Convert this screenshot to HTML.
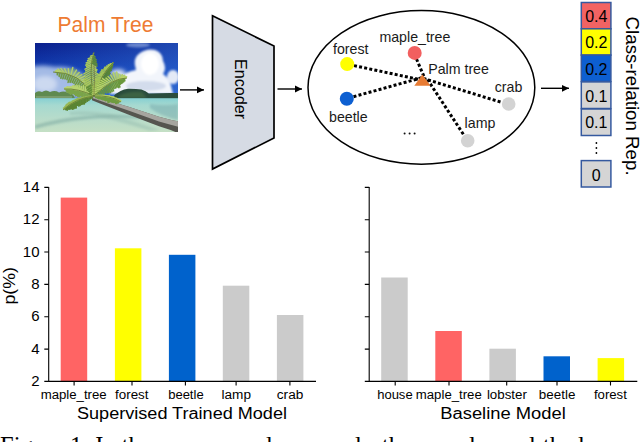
<!DOCTYPE html>
<html><head><meta charset="utf-8">
<style>
html,body{margin:0;padding:0;background:#fff;width:640px;height:442px;overflow:hidden}
svg{display:block;font-family:"Liberation Sans",sans-serif}
</style></head>
<body>
<svg width="640" height="442" viewBox="0 0 640 442">
<defs>
  <marker id="ah" markerWidth="8" markerHeight="8" refX="7.2" refY="4" orient="auto" markerUnits="userSpaceOnUse">
    <path d="M0,0.5 L7.2,4 L0,7.5 Z" fill="#000"/>
  </marker>
  <clipPath id="photo"><rect x="35" y="43" width="143" height="89"/></clipPath>
  <filter id="b1" x="-50%" y="-50%" width="200%" height="200%"><feGaussianBlur stdDeviation="1.2"/></filter>
  <filter id="b2" x="-50%" y="-50%" width="200%" height="200%"><feGaussianBlur stdDeviation="0.6"/></filter>
  <linearGradient id="sky" x1="0" y1="0" x2="0" y2="1">
    <stop offset="0" stop-color="#0a1f8c"/>
    <stop offset="0.35" stop-color="#1343b8"/>
    <stop offset="1" stop-color="#4d8ad8"/>
  </linearGradient>
  <linearGradient id="sea" x1="0" y1="0" x2="0" y2="1">
    <stop offset="0" stop-color="#86d0d2"/>
    <stop offset="0.2" stop-color="#a6d9d0"/>
    <stop offset="0.6" stop-color="#b8dcca"/>
    <stop offset="1" stop-color="#c6e0c4"/>
  </linearGradient>
  <linearGradient id="skyr" x1="0" y1="0" x2="1" y2="0">
    <stop offset="0" stop-color="#3a7ae0" stop-opacity="0"/>
    <stop offset="1" stop-color="#3a7ae0" stop-opacity="0.45"/>
  </linearGradient>
  <filter id="b4" x="-50%" y="-50%" width="200%" height="200%"><feGaussianBlur stdDeviation="0.75"/></filter>
  <filter id="b3" x="-50%" y="-50%" width="200%" height="200%"><feGaussianBlur stdDeviation="2.2"/></filter>
</defs>

<!-- ===== Photo ===== -->
<text x="57.6" y="32.4" font-size="22" fill="#ee7b33" textLength="95.8" lengthAdjust="spacingAndGlyphs">Palm Tree</text>
<g clip-path="url(#photo)">
  <rect x="35" y="43" width="143" height="89" fill="url(#sky)"/>
  <rect x="35" y="43" width="143" height="89" fill="url(#skyr)"/>
  <!-- left haze cloud -->
  <g filter="url(#b3)">
    <path d="M30,67 Q42,64 55,67 Q66,66 75,70 Q84,74 90,82 L92,98 L30,98 Z" fill="#b3c6ea" opacity="0.9"/>
    <ellipse cx="45" cy="84" rx="12" ry="8" fill="#d0dcf2" opacity="0.9"/>
    <ellipse cx="118" cy="74" rx="8" ry="5" fill="#e6ecf8" opacity="0.9"/>
  </g>
  <!-- big cumulus -->
  <g filter="url(#b1)">
    <path d="M136,70 Q132,58 140,53 Q147,48 155,50 Q163,53 163,61 Q167,68 163,74 Q169,78 171,86 L173,94 L110,94 Q110,84 118,79 Q125,72 136,70 Z" fill="#f2f5fb"/>
    <ellipse cx="150" cy="64" rx="9" ry="11" fill="#ffffff"/>
    <ellipse cx="146" cy="86" rx="20" ry="5" fill="#d3dcec"/>
    <ellipse cx="173" cy="77" rx="6" ry="7" fill="#e4eaf6"/>
    <ellipse cx="138" cy="45" rx="12" ry="2.5" fill="#9fb6e6" opacity="0.6"/>
  </g>
  <!-- island -->
  <path d="M113,97 Q116,93 120.6,91 Q124,89 128,88.7 Q136,88.6 141.4,89.5 Q146,91 148.8,93.5 Q160,92.8 178,93 L178,99 L113,99 Z" fill="#2b4d3c" filter="url(#b2)"/>
  <path d="M119,96 Q128,91 142,92 L147,98 L119,98 Z" fill="#4b7549" opacity="0.55" filter="url(#b1)"/>
  <!-- left trees -->
  <g filter="url(#b2)">
    <path d="M35,93 Q38,90 42,92 Q46,89 50,92 Q55,90 59,92.5 Q64,90.5 68,93 Q72,93 74,96 L75,98.5 L35,98.5 Z" fill="#5f8a50"/>
    <path d="M36,96 L72,96 L72,98.5 L36,98.5 Z" fill="#8aa67a" opacity="0.6"/>
  </g>
  <!-- sea -->
  <rect x="35" y="98.2" width="143" height="35" fill="url(#sea)"/>
  <path d="M150,104 Q165,106 178,104 L178,120 Q160,116 150,108 Z" fill="#7aaeb0" opacity="0.55" filter="url(#b1)"/>
  <!-- shadow -->
  <path d="M35,125 Q60,118 85,116 Q110,113 140,116 L140,119 Q110,117 85,119.5 Q60,122 35,129 Z" fill="#7eaaa2" opacity="0.55" filter="url(#b1)"/>
  <path d="M70,112 Q90,110 110,114 Q130,120 160,130 L150,131 Q125,123 105,118 Q88,114 70,115 Z" fill="#8fb8ac" opacity="0.4" filter="url(#b1)"/>
  <!-- trunk -->
  <path d="M92,96 L100,98.3 Q130,106.8 159,116.8 Q170,120 179,121.5 L179,133.5 Q170,129.5 159,126.3 Q130,115.5 100,103.6 L92,100.3 Z" fill="#55554f" filter="url(#b2)"/>
  <path d="M92,96 L100,98.3 Q130,106.8 159,116.8 Q170,120 179,121.5 L179,127 Q170,124.5 159,121.4 Q130,111 100,100.8 L92,98 Z" fill="#a6a59f" filter="url(#b2)"/>
  <!-- fronds -->
  <g filter="url(#b4)">
<path d="M94.0,96.0 L95.4,94.1 L94.8,92.1 L95.2,90.0 L93.1,88.0 L93.2,85.9 L91.6,83.9 L89.4,82.1 L89.1,79.8 L86.0,78.3 L85.1,75.9 L81.9,74.5 L79.2,72.6 L76.5,70.0 L72.8,67.5 L68.3,68.8 L64.6,68.8 L61.0,68.6 L58.0,69.0 L56.6,70.2 L55.4,71.0 L55.4,72.0 L53.0,72.0 L55.4,72.0 L57.2,74.8 L59.1,76.5 L60.8,78.4 L62.8,78.9 L65.0,79.0 L66.9,79.7 L68.0,82.5 L70.1,82.4 L72.2,82.6 L73.9,83.5 L75.1,85.5 L77.3,85.6 L78.3,87.9 L80.6,88.0 L81.8,89.8 L83.2,91.4 L85.6,91.7 L86.6,94.0 L89.1,94.5 L90.9,95.9Z" fill="#6f9a40" opacity="0.45"/><path d="M92.7,93.9 L90.9,95.9 M91.3,91.8 L89.1,94.5 M89.9,89.9 L86.6,94.0 M88.5,88.1 L85.6,91.7 M87.0,86.3 L83.2,91.4 M85.4,84.7 L81.8,89.8 M83.8,83.2 L80.6,88.0 M82.1,81.7 L78.3,87.9 M80.4,80.4 L77.3,85.6 M78.6,79.1 L75.1,85.5 M76.8,78.0 L73.9,83.5 M74.9,77.0 L72.2,82.6 M72.9,76.0 L70.1,82.4 M70.9,75.2 L68.0,82.5 M68.9,74.4 L66.9,79.7 M66.8,73.8 L65.0,79.0 M64.6,73.2 L62.8,78.9 M62.4,72.8 L60.8,78.4 M60.1,72.4 L59.1,76.5 M57.8,72.2 L57.2,74.8 M55.4,72.0 L55.4,72.0" stroke="#6f9a40" stroke-width="1.4" stroke-linecap="round" fill="none"/><path d="M92.7,93.9 L95.4,94.1 M91.3,91.8 L94.8,92.1 M89.9,89.9 L95.2,90.0 M88.5,88.1 L93.1,88.0 M87.0,86.3 L93.2,85.9 M85.4,84.7 L91.6,83.9 M83.8,83.2 L89.4,82.1 M82.1,81.7 L89.1,79.8 M80.4,80.4 L86.0,78.3 M78.6,79.1 L85.1,75.9 M76.8,78.0 L81.9,74.5 M74.9,77.0 L79.2,72.6 M72.9,76.0 L76.5,70.0 M70.9,75.2 L72.8,67.5 M68.9,74.4 L68.3,68.8 M66.8,73.8 L64.6,68.8 M64.6,73.2 L61.0,68.6 M62.4,72.8 L58.0,69.0 M60.1,72.4 L56.6,70.2 M57.8,72.2 L55.4,71.0 M55.4,72.0 L55.4,72.0" stroke="#b4d06a" stroke-width="1.4" stroke-linecap="round" fill="none"/><path d="M94.0,96.0 Q80.0,72.0 53.0,72.0" stroke="#6a7f38" stroke-width="0.9" fill="none"/><path d="M94.0,96.0 L93.7,93.8 L93.0,91.4 L91.2,90.7 L89.5,89.7 L87.6,88.7 L85.7,87.4 L83.4,85.6 L81.4,86.5 L79.0,85.3 L76.8,85.1 L75.1,85.7 L73.0,85.5 L72.2,86.5 L70.7,86.7 L69.1,86.8 L67.1,86.7 L66.5,87.2 L65.8,87.7 L64.7,87.9 L64.4,88.3 L65.3,88.9 L64.0,89.0 L65.3,88.9 L66.2,91.1 L67.2,92.2 L68.4,92.5 L69.5,93.3 L70.5,94.3 L72.0,93.8 L73.2,93.9 L74.5,94.3 L75.4,95.7 L76.8,95.7 L77.9,96.6 L79.2,96.7 L80.9,96.1 L81.8,97.7 L83.7,96.9 L85.3,96.7 L86.8,97.0 L88.3,97.3 L89.6,98.0 L91.8,97.0Z" fill="#7aa448" opacity="0.45"/><path d="M92.5,95.3 L91.8,97.0 M91.1,94.6 L89.6,98.0 M89.7,94.0 L88.3,97.3 M88.2,93.4 L86.8,97.0 M86.8,92.8 L85.3,96.7 M85.4,92.3 L83.7,96.9 M84.0,91.8 L81.8,97.7 M82.6,91.4 L80.9,96.1 M81.2,91.0 L79.2,96.7 M79.9,90.6 L77.9,96.6 M78.5,90.2 L76.8,95.7 M77.1,90.0 L75.4,95.7 M75.8,89.7 L74.5,94.3 M74.4,89.5 L73.2,93.9 M73.1,89.3 L72.0,93.8 M71.8,89.1 L70.5,94.3 M70.5,89.0 L69.5,93.3 M69.2,88.9 L68.4,92.5 M67.9,88.9 L67.2,92.2 M66.6,88.9 L66.2,91.1 M65.3,88.9 L65.3,88.9" stroke="#7aa448" stroke-width="1.4" stroke-linecap="round" fill="none"/><path d="M92.5,95.3 L93.7,93.8 M91.1,94.6 L93.0,91.4 M89.7,94.0 L91.2,90.7 M88.2,93.4 L89.5,89.7 M86.8,92.8 L87.6,88.7 M85.4,92.3 L85.7,87.4 M84.0,91.8 L83.4,85.6 M82.6,91.4 L81.4,86.5 M81.2,91.0 L79.0,85.3 M79.9,90.6 L76.8,85.1 M78.5,90.2 L75.1,85.7 M77.1,90.0 L73.0,85.5 M75.8,89.7 L72.2,86.5 M74.4,89.5 L70.7,86.7 M73.1,89.3 L69.1,86.8 M71.8,89.1 L67.1,86.7 M70.5,89.0 L66.5,87.2 M69.2,88.9 L65.8,87.7 M67.9,88.9 L64.7,87.9 M66.6,88.9 L64.4,88.3 M65.3,88.9 L65.3,88.9" stroke="#b8d470" stroke-width="1.4" stroke-linecap="round" fill="none"/><path d="M94.0,96.0 Q78.0,88.0 64.0,89.0" stroke="#6a7f38" stroke-width="0.9" fill="none"/><path d="M94.0,96.0 L96.5,94.8 L97.1,93.0 L96.7,90.8 L97.5,89.1 L97.6,87.1 L98.6,85.6 L98.3,83.5 L97.2,81.1 L99.0,80.1 L96.6,77.0 L97.3,75.5 L98.1,74.1 L96.5,71.2 L97.1,69.8 L95.9,67.2 L97.1,66.0 L97.0,64.1 L96.3,61.7 L96.3,59.8 L95.1,56.9 L93.5,53.7 L94.0,52.0 L93.5,53.7 L90.5,56.2 L88.2,58.7 L87.5,60.7 L86.2,63.0 L85.6,65.1 L86.5,66.5 L85.0,69.2 L85.6,70.9 L83.8,73.8 L84.7,75.5 L85.5,77.2 L83.5,80.5 L85.6,81.6 L84.9,84.3 L85.2,86.5 L86.7,88.0 L87.4,90.1 L88.9,91.6 L89.4,93.9 L90.9,95.6Z" fill="#5f8c36" opacity="0.45"/><path d="M93.5,93.7 L90.9,95.6 M93.0,91.3 L89.4,93.9 M92.6,89.1 L88.9,91.6 M92.2,86.8 L87.4,90.1 M91.9,84.6 L86.7,88.0 M91.6,62.4 L97.1,66.0 M91.9,60.6 L97.0,64.1 M92.2,58.8 L96.3,61.7 M92.6,57.1 L96.3,59.8 M93.0,55.3 L95.1,56.9 M93.5,53.7 L93.5,53.7" stroke="#5f8c36" stroke-width="1.4" stroke-linecap="round" fill="none"/><path d="M93.5,93.7 L96.5,94.8 M93.0,91.3 L97.1,93.0 M92.6,89.1 L96.7,90.8 M92.2,86.8 L97.5,89.1 M91.9,84.6 L97.6,87.1 M91.6,82.4 L98.6,85.6 M91.6,82.4 L85.2,86.5 M91.4,80.3 L98.3,83.5 M91.4,80.3 L84.9,84.3 M91.2,78.1 L97.2,81.1 M91.2,78.1 L85.6,81.6 M91.1,76.1 L99.0,80.1 M91.1,76.1 L83.5,80.5 M91.0,74.0 L96.6,77.0 M91.0,74.0 L85.5,77.2 M91.0,72.0 L97.3,75.5 M91.0,72.0 L84.7,75.5 M91.0,70.0 L98.1,74.1 M91.0,70.0 L83.8,73.8 M91.1,68.1 L96.5,71.2 M91.1,68.1 L85.6,70.9 M91.2,66.1 L97.1,69.8 M91.2,66.1 L85.0,69.2 M91.4,64.3 L95.9,67.2 M91.4,64.3 L86.5,66.5 M91.6,62.4 L85.6,65.1 M91.9,60.6 L86.2,63.0 M92.2,58.8 L87.5,60.7 M92.6,57.1 L88.2,58.7 M93.0,55.3 L90.5,56.2 M93.5,53.7 L93.5,53.7" stroke="#aac860" stroke-width="1.4" stroke-linecap="round" fill="none"/><path d="M94.0,96.0 Q88.0,70.0 94.0,52.0" stroke="#6a7f38" stroke-width="0.9" fill="none"/><path d="M94.0,96.0 L96.4,95.3 L97.8,93.8 L98.9,92.1 L100.5,90.9 L101.8,89.4 L102.2,87.2 L103.4,85.9 L103.5,83.5 L105.3,82.9 L106.1,81.3 L107.5,80.3 L108.1,78.5 L108.1,76.1 L109.0,74.8 L110.1,73.8 L110.0,71.3 L111.2,70.5 L111.6,68.6 L112.3,67.0 L112.8,65.3 L112.9,62.9 L114.0,62.0 L112.9,62.9 L110.2,63.7 L108.3,64.8 L106.7,65.9 L104.7,67.2 L104.1,68.5 L101.6,70.0 L100.9,71.4 L100.0,73.0 L97.8,74.7 L96.5,76.4 L96.4,78.0 L95.4,79.7 L96.0,81.2 L94.1,83.2 L94.0,85.0 L92.6,87.0 L92.5,88.9 L92.8,90.6 L92.5,92.6 L92.6,94.5Z" fill="#5a8632" opacity="0.45"/><path d="M94.7,93.8 L96.4,95.3 M95.5,91.8 L97.8,93.8 M96.3,89.7 L98.9,92.1 M97.0,87.7 L100.5,90.9 M97.8,85.8 L101.8,89.4 M98.7,84.0 L102.2,87.2 M99.5,82.1 L103.4,85.9 M100.3,80.4 L103.5,83.5 M101.2,78.7 L105.3,82.9 M102.1,77.1 L106.1,81.3 M103.0,75.5 L107.5,80.3 M103.9,74.0 L108.1,78.5 M104.9,72.5 L108.1,76.1 M105.8,71.1 L109.0,74.8 M106.8,69.8 L110.1,73.8 M107.8,68.5 L110.0,71.3 M108.8,67.3 L111.2,70.5 M109.8,66.1 L111.6,68.6 M110.8,65.0 L112.3,67.0 M111.9,63.9 L112.8,65.3 M112.9,62.9 L112.9,62.9" stroke="#5a8632" stroke-width="1.4" stroke-linecap="round" fill="none"/><path d="M94.7,93.8 L92.6,94.5 M95.5,91.8 L92.5,92.6 M96.3,89.7 L92.8,90.6 M97.0,87.7 L92.5,88.9 M97.8,85.8 L92.6,87.0 M98.7,84.0 L94.0,85.0 M99.5,82.1 L94.1,83.2 M100.3,80.4 L96.0,81.2 M101.2,78.7 L95.4,79.7 M102.1,77.1 L96.4,78.0 M103.0,75.5 L96.5,76.4 M103.9,74.0 L97.8,74.7 M104.9,72.5 L100.0,73.0 M105.8,71.1 L100.9,71.4 M106.8,69.8 L101.6,70.0 M107.8,68.5 L104.1,68.5 M108.8,67.3 L104.7,67.2 M109.8,66.1 L106.7,65.9 M110.8,65.0 L108.3,64.8 M111.9,63.9 L110.2,63.7 M112.9,62.9 L112.9,62.9" stroke="#a4c45a" stroke-width="1.4" stroke-linecap="round" fill="none"/><path d="M94.0,96.0 Q102.0,72.0 114.0,62.0" stroke="#6a7f38" stroke-width="0.9" fill="none"/><path d="M94.0,96.0 L97.0,96.4 L99.3,95.9 L101.4,95.4 L103.9,95.5 L104.7,93.1 L106.9,93.1 L108.7,92.5 L110.7,92.6 L112.2,91.7 L113.7,91.0 L114.2,88.6 L115.8,88.2 L117.0,87.3 L118.8,87.8 L120.0,87.1 L120.4,84.3 L121.6,83.6 L122.7,82.8 L123.8,81.8 L124.9,80.9 L125.6,78.0 L127.0,78.0 L125.6,78.0 L126.7,76.8 L125.7,76.2 L124.4,75.3 L122.4,74.7 L119.8,74.2 L116.7,72.0 L113.2,72.7 L110.7,75.2 L108.0,76.4 L106.0,78.1 L102.6,78.6 L100.9,80.3 L99.1,81.8 L98.5,83.8 L97.4,85.5 L97.1,87.4 L94.2,88.5 L94.2,90.5 L93.6,92.3 L93.2,94.0Z" fill="#6a983c" opacity="0.45"/><path d="M95.6,94.4 L97.0,96.4 M97.2,92.9 L99.3,95.9 M98.9,91.4 L101.4,95.4 M100.4,90.0 L103.9,95.5 M102.0,88.7 L104.7,93.1 M103.6,87.5 L106.9,93.1 M105.2,86.4 L108.7,92.5 M106.7,85.3 L110.7,92.6 M108.2,84.3 L112.2,91.7 M109.7,83.4 L113.7,91.0 M111.2,82.5 L114.2,88.6 M112.7,81.7 L115.8,88.2 M114.2,81.0 L117.0,87.3 M115.7,80.4 L118.8,87.8 M117.2,79.8 L120.0,87.1 M118.6,79.3 L120.4,84.3 M120.0,78.9 L121.6,83.6 M121.4,78.6 L122.7,82.8 M122.9,78.3 L123.8,81.8 M124.2,78.1 L124.9,80.9 M125.6,78.0 L125.6,78.0" stroke="#6a983c" stroke-width="1.4" stroke-linecap="round" fill="none"/><path d="M95.6,94.4 L93.2,94.0 M97.2,92.9 L93.6,92.3 M98.9,91.4 L94.2,90.5 M100.4,90.0 L94.2,88.5 M102.0,88.7 L97.1,87.4 M103.6,87.5 L97.4,85.5 M105.2,86.4 L98.5,83.8 M106.7,85.3 L99.1,81.8 M108.2,84.3 L100.9,80.3 M109.7,83.4 L102.6,78.6 M111.2,82.5 L106.0,78.1 M112.7,81.7 L108.0,76.4 M114.2,81.0 L110.7,75.2 M115.7,80.4 L113.2,72.7 M117.2,79.8 L116.7,72.0 M118.6,79.3 L119.8,74.2 M120.0,78.9 L122.4,74.7 M121.4,78.6 L124.4,75.3 M122.9,78.3 L125.7,76.2 M124.2,78.1 L126.7,76.8 M125.6,78.0 L125.6,78.0" stroke="#b6d268" stroke-width="1.4" stroke-linecap="round" fill="none"/><path d="M94.0,96.0 Q112.0,78.0 127.0,78.0" stroke="#6a7f38" stroke-width="0.9" fill="none"/><path d="M94.0,96.0 L90.3,96.0 L88.2,96.3 L85.4,96.6 L83.3,97.1 L81.0,97.6 L78.3,98.2 L77.1,98.8 L75.8,99.4 L74.0,100.1 L72.3,100.9 L72.4,101.4 L69.1,102.5 L68.2,103.3 L66.9,104.2 L66.1,105.0 L65.9,105.5 L65.1,106.4 L64.8,107.0 L63.4,108.1 L63.7,108.6 L64.2,108.9 L63.0,110.0 L64.2,108.9 L65.8,109.7 L67.2,110.3 L68.4,109.2 L69.8,109.3 L71.1,108.9 L72.4,109.3 L73.7,109.0 L75.0,108.3 L76.3,108.0 L77.5,105.4 L78.9,106.3 L80.2,105.5 L81.6,104.6 L83.0,104.3 L84.4,104.1 L85.8,102.5 L87.4,101.3 L88.9,100.5 L90.5,99.0 L92.1,98.3Z" fill="#5a8432" opacity="0.45"/><path d="M92.4,96.2 L92.1,98.3 M90.8,96.4 L90.5,99.0 M89.2,96.7 L88.9,100.5 M87.6,97.1 L87.4,101.3 M86.1,97.4 L85.8,102.5 M84.6,97.8 L84.4,104.1 M83.1,98.3 L83.0,104.3 M81.6,98.8 L81.6,104.6 M80.1,99.3 L80.2,105.5 M78.7,99.9 L78.9,106.3 M77.2,100.5 L77.5,105.4 M75.9,101.2 L76.3,108.0 M74.5,101.9 L75.0,108.3 M73.1,102.6 L73.7,109.0 M71.8,103.4 L72.4,109.3 M70.5,104.2 L71.1,108.9 M69.2,105.1 L69.8,109.3 M67.9,106.0 L68.4,109.2 M66.6,106.9 L67.2,110.3 M65.4,107.9 L65.8,109.7 M64.2,108.9 L64.2,108.9" stroke="#5a8432" stroke-width="1.4" stroke-linecap="round" fill="none"/><path d="M92.4,96.2 L90.3,96.0 M90.8,96.4 L88.2,96.3 M89.2,96.7 L85.4,96.6 M87.6,97.1 L83.3,97.1 M86.1,97.4 L81.0,97.6 M84.6,97.8 L78.3,98.2 M83.1,98.3 L77.1,98.8 M81.6,98.8 L75.8,99.4 M80.1,99.3 L74.0,100.1 M78.7,99.9 L72.3,100.9 M77.2,100.5 L72.4,101.4 M75.9,101.2 L69.1,102.5 M74.5,101.9 L68.2,103.3 M73.1,102.6 L66.9,104.2 M71.8,103.4 L66.1,105.0 M70.5,104.2 L65.9,105.5 M69.2,105.1 L65.1,106.4 M67.9,106.0 L64.8,107.0 M66.6,106.9 L63.4,108.1 M65.4,107.9 L63.7,108.6 M64.2,108.9 L64.2,108.9" stroke="#98b852" stroke-width="1.4" stroke-linecap="round" fill="none"/><path d="M94.0,96.0 Q76.0,98.0 63.0,110.0" stroke="#6a7f38" stroke-width="0.9" fill="none"/><path d="M94.0,96.0 L95.8,97.6 L97.3,98.2 L98.8,98.9 L100.2,98.9 L101.5,99.2 L102.9,99.8 L104.2,100.1 L105.5,100.9 L106.6,100.5 L108.0,102.5 L109.1,102.2 L110.2,101.5 L111.3,102.0 L112.4,102.3 L113.5,102.5 L114.6,102.3 L115.6,103.5 L116.6,103.6 L117.7,102.9 L118.8,102.7 L120.0,101.4 L121.0,102.0 L120.0,101.4 L120.8,101.2 L120.5,100.8 L120.7,100.5 L119.9,99.9 L118.1,99.3 L117.6,98.8 L116.7,98.3 L115.5,97.9 L114.2,97.4 L114.0,97.0 L113.3,96.6 L110.2,96.3 L109.5,95.9 L107.6,95.7 L106.1,95.4 L104.3,95.3 L102.7,95.2 L101.2,95.1 L99.1,95.2 L97.0,95.3Z" fill="#6e9c40" opacity="0.45"/><path d="M95.4,95.9 L95.8,97.6 M96.9,95.9 L97.3,98.2 M98.3,95.9 L98.8,98.9 M99.7,95.9 L100.2,98.9 M101.0,96.0 L101.5,99.2 M102.4,96.0 L102.9,99.8 M103.7,96.2 L104.2,100.1 M105.0,96.3 L105.5,100.9 M106.3,96.5 L106.6,100.5 M107.5,96.7 L108.0,102.5 M108.8,97.0 L109.1,102.2 M110.0,97.3 L110.2,101.5 M111.2,97.6 L111.3,102.0 M112.3,98.0 L112.4,102.3 M113.5,98.4 L113.5,102.5 M114.6,98.8 L114.6,102.3 M115.7,99.2 L115.6,103.5 M116.8,99.7 L116.6,103.6 M117.9,100.2 L117.7,102.9 M119.0,100.8 L118.8,102.7 M120.0,101.4 L120.0,101.4" stroke="#6e9c40" stroke-width="1.4" stroke-linecap="round" fill="none"/><path d="M95.4,95.9 L97.0,95.3 M96.9,95.9 L99.1,95.2 M98.3,95.9 L101.2,95.1 M99.7,95.9 L102.7,95.2 M101.0,96.0 L104.3,95.3 M102.4,96.0 L106.1,95.4 M103.7,96.2 L107.6,95.7 M105.0,96.3 L109.5,95.9 M106.3,96.5 L110.2,96.3 M107.5,96.7 L113.3,96.6 M108.8,97.0 L114.0,97.0 M110.0,97.3 L114.2,97.4 M111.2,97.6 L115.5,97.9 M112.3,98.0 L116.7,98.3 M113.5,98.4 L117.6,98.8 M114.6,98.8 L118.1,99.3 M115.7,99.2 L119.9,99.9 M116.8,99.7 L120.7,100.5 M117.9,100.2 L120.5,100.8 M119.0,100.8 L120.8,101.2 M120.0,101.4 L120.0,101.4" stroke="#b0ce64" stroke-width="1.4" stroke-linecap="round" fill="none"/><path d="M94.0,96.0 Q110.0,95.0 121.0,102.0" stroke="#6a7f38" stroke-width="0.9" fill="none"/><path d="M94,65 Q95,80 94,96" stroke="#5a4a2a" stroke-width="1.1" fill="none" opacity="0.4"/>
  </g>
</g>

<!-- arrows -->
<line x1="180" y1="89.9" x2="204" y2="89.9" stroke="#000" stroke-width="1.4" marker-end="url(#ah)"/>
<line x1="277.5" y1="89" x2="302" y2="89" stroke="#000" stroke-width="1.4" marker-end="url(#ah)"/>
<line x1="541" y1="88.3" x2="569" y2="88.3" stroke="#000" stroke-width="1.4" marker-end="url(#ah)"/>

<!-- Encoder -->
<polygon points="212.5,15.8 274,46 274,138 212.5,169" fill="#d6dbe4" stroke="#000" stroke-width="1.7" stroke-linejoin="miter"/>
<text transform="translate(235,59) rotate(90)" x="0" y="0" font-size="16" fill="#000" textLength="60" lengthAdjust="spacingAndGlyphs">Encoder</text>

<!-- Ellipse graph -->
<ellipse cx="421.4" cy="87.4" rx="113.4" ry="76.8" fill="none" stroke="#000" stroke-width="1.5"/>
<g stroke="#000" stroke-width="3" stroke-dasharray="3,2.2" fill="none">
  <line x1="354" y1="65.6" x2="424" y2="80.5"/>
  <line x1="353.5" y1="96.7" x2="424" y2="77.1"/>
  <line x1="416.5" y1="59" x2="425.5" y2="80"/>
  <line x1="423" y1="78.4" x2="501.5" y2="102.3"/>
  <line x1="427.5" y1="79.5" x2="463.5" y2="134.5"/>
</g>
<circle cx="347.2" cy="64.1" r="7" fill="#ffff00"/>
<circle cx="346.8" cy="98.7" r="7" fill="#0d5fd1"/>
<circle cx="414.7" cy="52.9" r="7" fill="#f25f5f"/>
<circle cx="508.7" cy="104" r="6.8" fill="#d3d3d3"/>
<circle cx="467.7" cy="140.7" r="6.8" fill="#d3d3d3"/>
<polygon points="422.3,74.5 414.3,85.8 430.5,85.8" fill="#e77b33"/>
<g font-size="14.2" fill="#1a1a1a">
  <text x="333" y="54.4">forest</text>
  <text x="329" y="121.6">beetle</text>
  <text x="379.4" y="42.1">maple_tree</text>
  <text x="428.2" y="73.6">Palm tree</text>
  <text x="494.7" y="92.4">crab</text>
  <text x="464.6" y="127.5">lamp</text>
</g>
<g fill="#111"><circle cx="404.6" cy="133.6" r="1"/><circle cx="409.6" cy="133.6" r="1"/><circle cx="414.6" cy="133.6" r="1"/></g>

<!-- class-relation column -->
<g stroke="#35599f" stroke-width="1.5">
  <rect x="581.3" y="2.5" width="29.6" height="26.3" fill="#f26363"/>
  <rect x="581.3" y="28.8" width="29.6" height="26.3" fill="#ffff00"/>
  <rect x="581.3" y="55.1" width="29.6" height="26.3" fill="#0d5fd1"/>
  <rect x="581.3" y="81.9" width="29.6" height="26.6" fill="#d5d5d5"/>
  <rect x="581.3" y="109" width="29.6" height="26.5" fill="#d5d5d5"/>
  <rect x="581.3" y="160.6" width="29.6" height="26.4" fill="#d5d5d5"/>
</g>
<g font-size="16" fill="#000" text-anchor="middle">
  <text x="596.3" y="21.5">0.4</text>
  <text x="596.3" y="48">0.2</text>
  <text x="596.3" y="74.9">0.2</text>
  <text x="596.3" y="101.5">0.1</text>
  <text x="596.3" y="127.8">0.1</text>
  <text x="596.3" y="181">0</text>
</g>
<g fill="#000">
  <circle cx="596.4" cy="143" r="0.9"/>
  <circle cx="596.4" cy="148" r="0.9"/>
  <circle cx="596.4" cy="153" r="0.9"/>
</g>
<text transform="translate(626.4,16.6) rotate(90)" font-size="18.4" fill="#000" textLength="159" lengthAdjust="spacingAndGlyphs">Class-relation Rep.</text>

<!-- ===== Left chart ===== -->
<g fill-rule="nonzero">
  <rect x="60.7" y="197.6" width="26.5" height="183.4" fill="#ff6464"/>
  <rect x="114.9" y="248.3" width="26.5" height="132.7" fill="#ffff00"/>
  <rect x="168.9" y="254.8" width="26.5" height="126.2" fill="#0062cc"/>
  <rect x="222.8" y="285.7" width="26.5" height="95.3" fill="#cbcbcb"/>
  <rect x="276.9" y="315" width="26.5" height="66" fill="#cbcbcb"/>
</g>
<g stroke="#000" stroke-width="1.1" fill="none">
  <path d="M48.7,187 V381.4 H316"/>
  <path d="M44.3,187.4 H48.7 M44.3,219.7 H48.7 M44.3,252 H48.7 M44.3,284.4 H48.7 M44.3,316.7 H48.7 M44.3,349.1 H48.7 M44.3,381.4 H48.7"/>
  <path d="M74.1,381 V385.5 M132,381 V385.5 M185.4,381 V385.5 M236.1,381 V385.5 M289.9,381 V385.5"/>
</g>
<g font-size="15" fill="#000" text-anchor="end">
  <text x="39.5" y="191.8">14</text>
  <text x="39.5" y="224.1">12</text>
  <text x="39.5" y="256.5">10</text>
  <text x="39.5" y="288.8">8</text>
  <text x="39.5" y="321.1">6</text>
  <text x="39.5" y="353.5">4</text>
  <text x="39.5" y="385.8">2</text>
</g>
<g font-size="12" fill="#000" text-anchor="middle" lengthAdjust="spacingAndGlyphs">
  <text x="73.65" y="398.5" textLength="66" lengthAdjust="spacingAndGlyphs">maple_tree</text>
  <text x="131.8" y="398.5" textLength="33.5" lengthAdjust="spacingAndGlyphs">forest</text>
  <text x="185.9" y="398.5" textLength="35.5" lengthAdjust="spacingAndGlyphs">beetle</text>
  <text x="236.25" y="398.5" textLength="29.5" lengthAdjust="spacingAndGlyphs">lamp</text>
  <text x="290.05" y="398.5" textLength="26.5" lengthAdjust="spacingAndGlyphs">crab</text>
</g>
<text x="182" y="418.5" font-size="16" text-anchor="middle" textLength="210" lengthAdjust="spacingAndGlyphs">Supervised Trained Model</text>
<text transform="translate(14.6,285.8) rotate(-90)" font-size="16.3" text-anchor="middle" textLength="37.5" lengthAdjust="spacingAndGlyphs">p(%)</text>

<!-- ===== Right chart ===== -->
<g>
  <rect x="381.2" y="277.5" width="26.5" height="103.5" fill="#cbcbcb"/>
  <rect x="435.3" y="331" width="26.5" height="50" fill="#ff6464"/>
  <rect x="489.4" y="348.7" width="26.5" height="32.3" fill="#cbcbcb"/>
  <rect x="543.5" y="356.3" width="26.5" height="24.7" fill="#0062cc"/>
  <rect x="597.6" y="358.1" width="26.5" height="22.9" fill="#ffff00"/>
</g>
<g stroke="#000" stroke-width="1.1" fill="none">
  <path d="M369.2,187 V381.4 H637.3"/>
  <path d="M364.8,187.4 H369.2 M364.8,219.7 H369.2 M364.8,252 H369.2 M364.8,284.4 H369.2 M364.8,316.7 H369.2 M364.8,349.1 H369.2 M364.8,381.4 H369.2"/>
  <path d="M395.2,381 V385.5 M449,381 V385.5 M506.7,381 V385.5 M557,381 V385.5 M610.5,381 V385.5"/>
</g>
<g font-size="12" fill="#000" text-anchor="middle">
  <text x="394.9" y="398.5" textLength="35.5" lengthAdjust="spacingAndGlyphs">house</text>
  <text x="448.8" y="398.5" textLength="66" lengthAdjust="spacingAndGlyphs">maple_tree</text>
  <text x="506.9" y="398.5" textLength="40" lengthAdjust="spacingAndGlyphs">lobster</text>
  <text x="557.1" y="398.5" textLength="36.5" lengthAdjust="spacingAndGlyphs">beetle</text>
  <text x="610.4" y="398.5" textLength="33" lengthAdjust="spacingAndGlyphs">forest</text>
</g>
<text x="503" y="418.5" font-size="16" text-anchor="middle" textLength="125.5" lengthAdjust="spacingAndGlyphs">Baseline Model</text>

<!-- caption -->
<g font-family="Liberation Serif" font-size="24.5" fill="#000">
<text x="0" y="454.3">Figure 1: In the upper panel, we</text>
<text x="355" y="454.3">l</text>
<text x="382" y="454.3">the</text>
<text x="469" y="454.3">l</text>
<text x="529" y="454.3">l</text>
<text x="543" y="454.3">the</text>
<text x="578" y="454.3">l</text>
</g>
</svg>
</body></html>
